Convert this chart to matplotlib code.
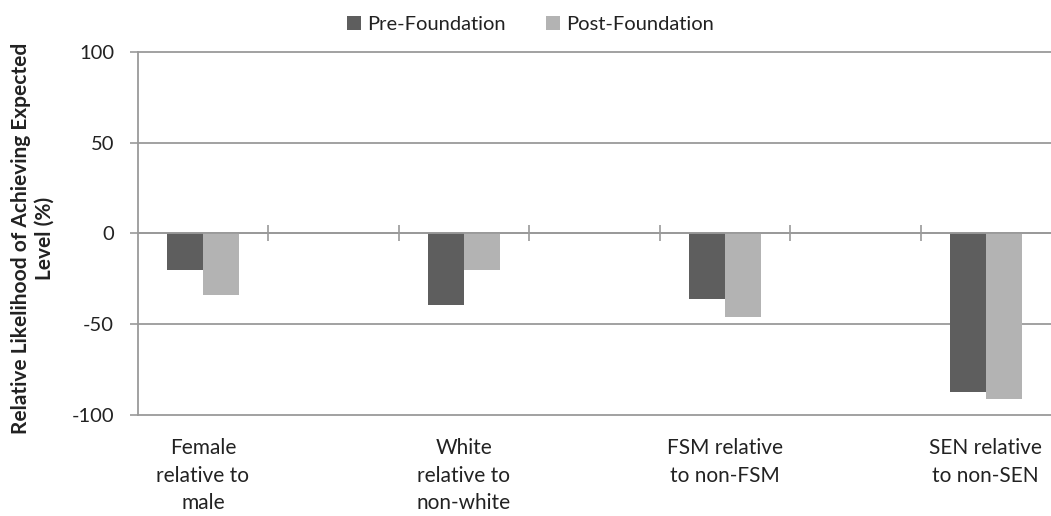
import matplotlib

matplotlib.use("Agg")
import matplotlib.pyplot as plt
import matplotlib.transforms as mtransforms

# Data
categories = [
    "Female\nrelative to\nmale",
    "White\nrelative to\nnon-white",
    "FSM relative\nto non-FSM",
    "SEN relative\nto non-SEN",
]
pre_foundation = [-20, -39.5, -36, -87.5]
post_foundation = [-34, -20, -46, -91]
y_ticks = [-100, -50, 0, 50, 100]

# Excel layout: an empty slot between each labelled category
slot_pos = [0, 2, 4, 6]
n_slots = 7

DARK = "#5e5e5e"
LIGHT = "#b3b3b3"
LINE = "#9a9a9a"
TEXT = "#222222"

plt.rcParams["font.family"] = ["Lato", "DejaVu Sans"]

fig = plt.figure(figsize=(10.51, 5.16), dpi=100)
ax = fig.add_axes([0.131, 0.196, 0.869, 0.703])

width = 0.275
ax.bar([p - width / 2 for p in slot_pos], pre_foundation, width, color=DARK,
       label="Pre-Foundation", zorder=3)
ax.bar([p + width / 2 for p in slot_pos], post_foundation, width, color=LIGHT,
       label="Post-Foundation", zorder=3)

ax.set_xlim(-0.5, n_slots - 0.5)
ax.set_ylim(-100, 100)
ax.set_yticks(y_ticks)
ax.set_yticklabels([str(t) for t in y_ticks])
ax.tick_params(axis="y", length=6, width=1.2, color=LINE, labelsize=14.5,
               labelcolor=TEXT, pad=11)

# gridlines, including the one on the bottom edge
for t in y_ticks:
    ax.axhline(t, color=LINE, lw=1.3, zorder=1, clip_on=False)

# x axis line sits at zero with tick marks between slots
ax.spines["bottom"].set_position(("data", 0))
ax.spines["bottom"].set_color(LINE)
ax.spines["bottom"].set_linewidth(1.3)
ax.spines["bottom"].set_zorder(4)
ax.set_xticks([i + 0.5 for i in range(n_slots - 1)])
ax.set_xticklabels([])
ax.tick_params(axis="x", direction="inout", length=12, width=1.2, color=LINE)
ax.spines["left"].set_color(LINE)
ax.spines["left"].set_linewidth(1.3)
ax.spines["top"].set_visible(False)
ax.spines["right"].set_visible(False)

trans = mtransforms.blended_transform_factory(ax.transData, ax.transAxes)
for p, lab in zip(slot_pos, categories):
    ax.text(p, -0.065, lab, transform=trans, ha="center", va="top",
            fontsize=15, color=TEXT, linespacing=1.45)

fig.text(0.031, 0.538, "Relative Likelihood of Achieving Expected\nLevel (%)",
         rotation=90, ha="center", va="center", fontsize=15, fontweight="bold",
         color=TEXT, linespacing=1.2)

fig.legend(loc="center", bbox_to_anchor=(0.505, 0.953), ncol=2, frameon=False,
           handlelength=0.7, handleheight=0.7, handletextpad=0.3,
           columnspacing=2.0, fontsize=14.5, labelcolor=TEXT)

fig.savefig("out.png", dpi=100)
